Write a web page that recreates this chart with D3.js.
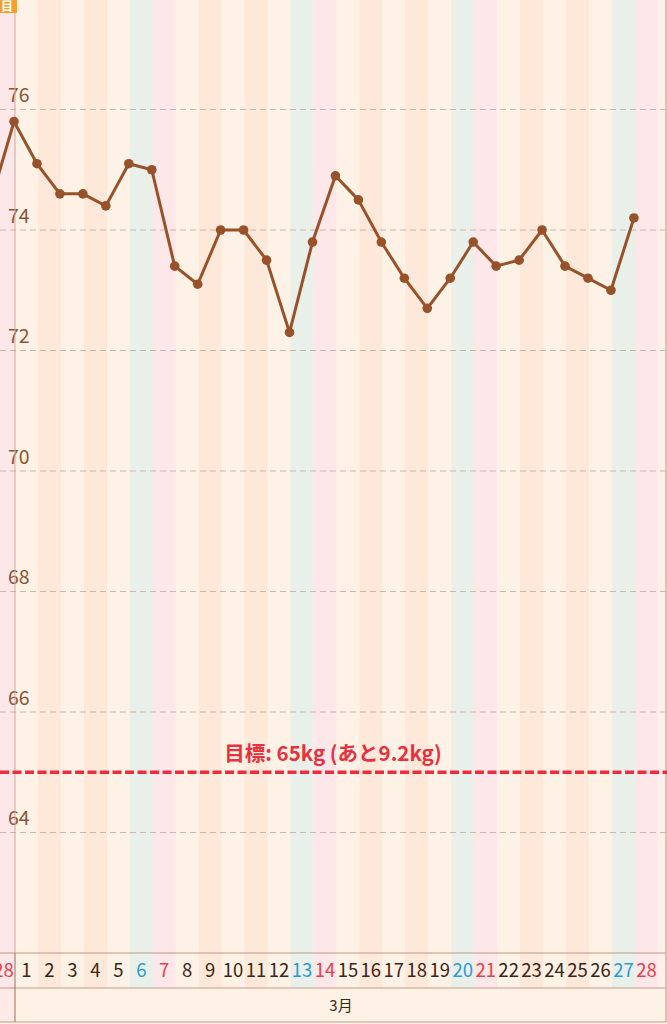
<!DOCTYPE html>
<html>
<head>
<meta charset="utf-8">
<script src="https://cdn.jsdelivr.net/npm/d3@7"></script>
<style>
  html, body { margin: 0; padding: 0; background: #fef2e6; }
  svg { display: block; }
</style>
</head>
<body>
<svg id="chart" width="667" height="1024"></svg>
<script>
// ---- data ----
const dates = ["2021-02-28","2021-03-01","2021-03-02","2021-03-03","2021-03-04","2021-03-05","2021-03-06","2021-03-07","2021-03-08","2021-03-09","2021-03-10","2021-03-11","2021-03-12","2021-03-13","2021-03-14","2021-03-15","2021-03-16","2021-03-17","2021-03-18","2021-03-19","2021-03-20","2021-03-21","2021-03-22","2021-03-23","2021-03-24","2021-03-25","2021-03-26","2021-03-27","2021-03-28"];
const dayLabels = ["28","1","2","3","4","5","6","7","8","9","10","11","12","13","14","15","16","17","18","19","20","21","22","23","24","25","26","27","28"];
const weights = [74.5, 75.8, 75.1, 74.6, 74.6, 74.4, 75.1, 75.0, 73.4, 73.1, 74.0, 74.0, 73.5, 72.3, 73.8, 74.9, 74.5, 73.8, 73.2, 72.7, 73.2, 73.8, 73.4, 73.5, 74.0, 73.4, 73.2, 73.0, 74.2];
const yTicks = [64, 66, 68, 70, 72, 74, 76];
const goalValue = 65;
const goalLabel = "目標: 65kg (あと9.2kg)";
const monthLabel = "3月";
const badgeLabel = "目";

// ---- layout ----
const W = 667;
const colW = 22.96;
const firstMarch = 15;
const plotTop = 0, axisTop = 953, axisBottom = 988, monthBottom = 1022;
const rightEdge = 666;

const svg = d3.select("#chart");
const font = "'Noto Sans CJK JP', 'Noto Sans', sans-serif";

const x = d3.scaleBand()
  .domain(dates)
  .range([firstMarch - colW, firstMarch - colW + colW * dates.length])
  .paddingInner(0).paddingOuter(0);

const y = d3.scaleLinear().domain([64, 76]).range([832.5, 109.5]);

function dayColor(dstr) {
  const wd = new Date(dstr + "T00:00:00").getDay();
  if (wd === 0) return "#fde7e8";
  if (wd === 6) return "#e9f0ea";
  return (wd % 2 === 1) ? "#fef2e6" : "#fde8da";
}
function labelColor(dstr) {
  const wd = new Date(dstr + "T00:00:00").getDay();
  if (wd === 0) return "#e5404c";
  if (wd === 6) return "#2a9ad6";
  return "#3b2418";
}

// column stripes
svg.append("g").selectAll("rect").data(dates).join("rect")
  .attr("x", d => x(d))
  .attr("y", plotTop)
  .attr("width", x.bandwidth() + 0.3)
  .attr("height", axisBottom - plotTop)
  .attr("fill", d => dayColor(d));

// right padding area
const lastEnd = x(dates[dates.length - 1]) + x.bandwidth();
svg.append("rect").attr("x", lastEnd).attr("y", 0)
  .attr("width", W - lastEnd).attr("height", axisBottom)
  .attr("fill", "#fdf0ea");

// month band
svg.append("rect").attr("x", 0).attr("y", axisBottom).attr("width", W).attr("height", 1024 - axisBottom).attr("fill", "#fef2e6");
svg.append("rect").attr("x", 0).attr("y", axisBottom).attr("width", firstMarch).attr("height", monthBottom - axisBottom).attr("fill", "#fde9e6");

// grid lines
svg.append("g").selectAll("line").data(yTicks).join("line")
  .attr("x1", 0).attr("x2", W)
  .attr("y1", d => y(d)).attr("y2", d => y(d))
  .attr("stroke", "#c9b6aa").attr("stroke-width", 1)
  .attr("stroke-dasharray", "6,4");

// y tick labels
svg.append("g").selectAll("text").data(yTicks).join("text")
  .attr("x", 8).attr("y", d => y(d) - 7.5)
  .attr("font-family", font).attr("font-size", 19.5)
  .attr("fill", "#8a5634")
  .text(d => d);

// vertical month boundary line
svg.append("line").attr("x1", firstMarch).attr("x2", firstMarch)
  .attr("y1", 0).attr("y2", monthBottom)
  .attr("stroke", "#cfa79c").attr("stroke-width", 1);

// right border
svg.append("line").attr("x1", rightEdge).attr("x2", rightEdge)
  .attr("y1", 0).attr("y2", monthBottom)
  .attr("stroke", "#d2b09c").attr("stroke-width", 1.5);

// axis band borders
[axisTop, axisBottom, monthBottom].forEach(yy => {
  svg.append("line").attr("x1", 0).attr("x2", rightEdge)
    .attr("y1", yy).attr("y2", yy)
    .attr("stroke", "#c09a84").attr("stroke-width", 1.2);
});
svg.append("line").attr("x1", firstMarch).attr("x2", firstMarch)
  .attr("y1", axisTop).attr("y2", monthBottom)
  .attr("stroke", "#b58e78").attr("stroke-width", 1);

// x labels
svg.append("g").selectAll("text").data(dates).join("text")
  .attr("x", d => x(d) + x.bandwidth() / 2)
  .attr("y", 977)
  .attr("text-anchor", "middle")
  .attr("font-family", font).attr("font-size", 18.5)
  .attr("fill", d => labelColor(d))
  .text((d, i) => dayLabels[i]);

// month label
svg.append("text").attr("x", 341).attr("y", 1011)
  .attr("text-anchor", "middle")
  .attr("font-family", font).attr("font-size", 15)
  .attr("fill", "#3b2418").text(monthLabel);

// goal line
svg.append("line").attr("x1", 0).attr("x2", W)
  .attr("y1", y(goalValue)).attr("y2", y(goalValue))
  .attr("stroke", "#ee2c3c").attr("stroke-width", 3.5)
  .attr("stroke-dasharray", "9,3.5");
svg.append("text").attr("x", 333).attr("y", y(goalValue) - 11)
  .attr("text-anchor", "middle")
  .attr("font-family", font).attr("font-size", 20.5).attr("font-weight", "bold")
  .attr("fill", "#e8303e").text(goalLabel);

// weight line
const px = (d) => x(d) - 1;
const line = d3.line().x((v, i) => px(dates[i])).y(v => y(v));
svg.append("path").datum(weights)
  .attr("d", line).attr("fill", "none")
  .attr("stroke", "#98522a").attr("stroke-width", 3)
  .attr("stroke-linejoin", "round");
svg.append("g").selectAll("circle").data(weights).join("circle")
  .attr("cx", (v, i) => px(dates[i])).attr("cy", v => y(v))
  .attr("r", 4.8).attr("fill", "#98522a");

// top-left badge
svg.append("rect").attr("x", 0).attr("y", 0).attr("width", 17).attr("height", 13)
  .attr("fill", "#f3a12c");
svg.append("text").attr("x", 13).attr("y", 11).attr("text-anchor", "end")
  .attr("font-family", font).attr("font-size", 12).attr("font-weight", "bold")
  .attr("fill", "#ffffff").text(badgeLabel);
</script>
</body>
</html>
